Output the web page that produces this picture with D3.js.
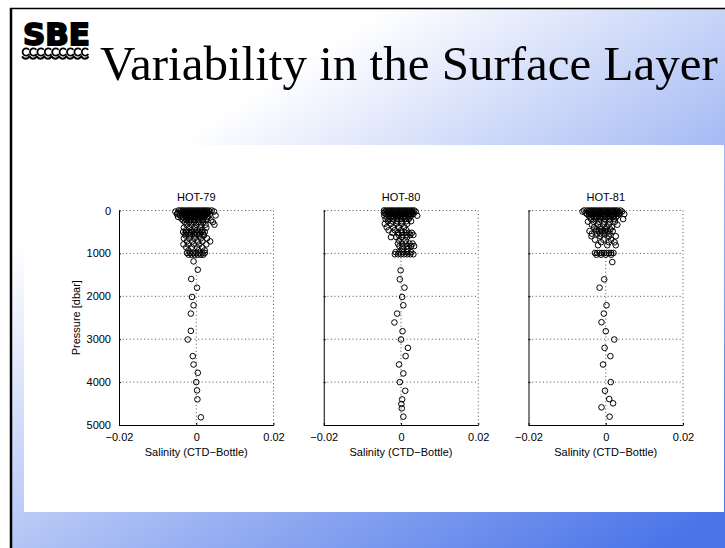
<!DOCTYPE html>
<html lang="en">
<head>
<meta charset="utf-8">
<title>Variability in the Surface Layer</title>
<script src="https://cdn.jsdelivr.net/npm/d3@7"></script>
<style>
  * { margin: 0; padding: 0; }
  body { background: #fff; }
  svg { display: block; }
  .tick text, .lbl { font-family: "Liberation Sans", Arial, Helvetica, sans-serif; font-size: 11px; fill: #000; }
  .grid { stroke: #222; stroke-width: 0.8; stroke-dasharray: 1 2.6; fill: none; }
  .pt { fill: none; stroke: #000; stroke-width: 1; }
</style>
</head>
<body>
<script>
// panels
var casts = ["HOT-79", "HOT-80", "HOT-81"];
var xTicks = [-0.02, 0, 0.02];
var xTickLabels = ["\u22120.02", "0", "0.02"];
var yTicks = [0, 1000, 2000, 3000, 4000, 5000];

// upper ~1000 dbar: [pressure, [salinity diffs]]
var hot79Upper = [
  [0, [-0.0046, -0.004, -0.0034, -0.0028, -0.0022, -0.0016, -0.001, -0.0004, 0.0002, 0.0008, 0.0014, 0.002, 0.0026, 0.0032, 0.004]],
  [25, [-0.0054, -0.0037, -0.0031, -0.0025, -0.0019, -0.0013, -0.0007, -0.0001, 0.0005, 0.0011, 0.0017, 0.0023, 0.0029, 0.0035, 0.0046]],
  [55, [-0.0048, -0.0036, -0.003, -0.0024, -0.0018, -0.0012, -0.0006, 0, 0.0006, 0.0012, 0.0018, 0.0024, 0.003]],
  [85, [-0.005, -0.0033, -0.0027, -0.0021, -0.0015, -0.0009, -0.0003, 0.0003, 0.0009, 0.0015, 0.0021, 0.0027, 0.0035]],
  [115, [-0.0042, -0.003, -0.0024, -0.0018, -0.0012, -0.0006, 0, 0.0006, 0.0012, 0.0018, 0.0024, 0.005]],
  [150, [-0.0047, -0.0035, -0.0027, -0.0019, -0.0011, -0.0003, 0.0005, 0.0013, 0.0021, 0.003]],
  [190, [-0.0038, -0.003, -0.0022, -0.0014, -0.0006, 0.0002, 0.001, 0.0018, 0.0028]],
  [230, [-0.0034, -0.0024, -0.0014, -0.0004, 0.0006, 0.0016, 0.0026, 0.0038]],
  [270, [-0.003, -0.0018, -0.0006, 0.0006, 0.0018, 0.0043]],
  [330, [-0.0025, -0.0012, 0, 0.0012, 0.0024, 0.0047]],
  [400, [-0.0032, -0.0018, -0.0004, 0.001, 0.0026]],
  [460, [-0.0026, -0.0012, 0.0002, 0.0016]],
  [500, [-0.0034, -0.0026, -0.0018, -0.001, -0.0002, 0.0006, 0.0014, 0.0022]],
  [540, [-0.003, -0.0022, -0.0014, -0.0006, 0.0002, 0.001, 0.0018]],
  [580, [-0.0028, -0.0016, -0.0004, 0.0008, 0.002]],
  [650, [-0.0032, -0.0018, -0.0004, 0.0012, 0.0028]],
  [720, [-0.0024, -0.001, 0.0004, 0.0016, 0.0036]],
  [790, [-0.0033, -0.002, -0.0006, 0.0008, 0.0026]],
  [860, [-0.0026, -0.0012, 0.0002, 0.0016]],
  [930, [-0.002, 0.0006, 0.0022]],
  [990, [-0.0024, -0.0016, -0.0008, 0, 0.0008, 0.0016, 0.0022]],
  [1030, [-0.002, -0.0012, -0.0004, 0.0004, 0.0012, 0.0018]]
];
var hot80Upper = [
  [0, [-0.0044, -0.0038, -0.0032, -0.0026, -0.002, -0.0014, -0.0008, -0.0002, 0.0004, 0.001, 0.0016, 0.0022, 0.0028, 0.0034]],
  [25, [-0.0041, -0.0035, -0.0029, -0.0023, -0.0017, -0.0011, -0.0005, 0.0001, 0.0007, 0.0013, 0.0019, 0.0025, 0.0031, 0.0038]],
  [55, [-0.0044, -0.0032, -0.0026, -0.002, -0.0014, -0.0008, -0.0002, 0.0004, 0.001, 0.0016, 0.0022, 0.0028]],
  [85, [-0.0038, -0.0029, -0.0023, -0.0017, -0.0011, -0.0005, 0.0001, 0.0007, 0.0013, 0.0019, 0.0025, 0.0032]],
  [120, [-0.0043, -0.003, -0.0022, -0.0014, -0.0006, 0.0002, 0.001, 0.0018, 0.0026, 0.0042]],
  [160, [-0.0036, -0.0026, -0.0018, -0.001, -0.0002, 0.0006, 0.0014, 0.0022]],
  [200, [-0.004, -0.003, -0.002, -0.001, 0, 0.001, 0.002]],
  [250, [-0.0034, -0.0022, -0.001, 0.0002, 0.0014, 0.0026]],
  [310, [-0.0042, -0.0026, -0.0012, 0.0002, 0.0016]],
  [390, [-0.0037, -0.002, -0.0006, 0.0008]],
  [460, [-0.0032, -0.0016, 0, 0.0014]],
  [520, [-0.0022, -0.0008, 0.0002, 0.0012, 0.002, 0.0028]],
  [570, [-0.0006, 0.0004, 0.0014, 0.0024, 0.0032]],
  [620, [-0.0026, -0.0012, 0.0002, 0.0016]],
  [700, [-0.0005, 0.0012]],
  [770, [-0.0008, 0.0002, 0.0012, 0.0022, 0.003]],
  [830, [-0.0004, 0.0006, 0.0016, 0.0026, 0.0034]],
  [900, [0.0002, 0.0018]],
  [970, [-0.0014, -0.0004, 0.0006, 0.0016, 0.0026]],
  [1020, [-0.0016, -0.0008, 0, 0.0008, 0.0016, 0.0024, 0.0032]]
];
var hot81Upper = [
  [0, [-0.0056, -0.0048, -0.0042, -0.0036, -0.003, -0.0024, -0.0018, -0.0012, -0.0006, 0, 0.0006, 0.0012, 0.0018, 0.0024, 0.003, 0.0038]],
  [25, [-0.006, -0.0045, -0.0039, -0.0033, -0.0027, -0.0021, -0.0015, -0.0009, -0.0003, 0.0003, 0.0009, 0.0015, 0.0021, 0.0027, 0.0033, 0.0042]],
  [55, [-0.0052, -0.0042, -0.0036, -0.003, -0.0024, -0.0018, -0.0012, -0.0006, 0, 0.0006, 0.0012, 0.0018, 0.0024, 0.003, 0.0036]],
  [85, [-0.0048, -0.0039, -0.0033, -0.0027, -0.0021, -0.0015, -0.0009, -0.0003, 0.0003, 0.0009, 0.0015, 0.0021, 0.0027, 0.0035, 0.0048]],
  [120, [-0.0044, -0.0034, -0.0026, -0.0018, -0.001, -0.0002, 0.0006, 0.0014, 0.0022, 0.003]],
  [160, [-0.004, -0.003, -0.0022, -0.0014, -0.0006, 0.0002, 0.001, 0.0018, 0.0026]],
  [200, [-0.0038, -0.0026, -0.0014, -0.0002, 0.001, 0.0022, 0.0045]],
  [260, [-0.0046, -0.0032, -0.0018, -0.0004, 0.001, 0.0024]],
  [330, [-0.0036, -0.002, -0.0006, 0.0008, 0.003]],
  [390, [-0.003, -0.0014, 0.0002, 0.0016]],
  [440, [-0.0024, -0.0012, 0, 0.0012]],
  [480, [-0.0042, -0.0026, -0.0018, -0.001, -0.0002, 0.0006, 0.0018]],
  [540, [-0.0036, -0.0022, -0.0014, -0.0006, 0.0002, 0.001]],
  [600, [-0.0037, -0.0014, 0.0008, 0.0026]],
  [680, [-0.0028, -0.0006, 0.0014]],
  [740, [-0.0012, 0.0008, 0.0023]],
  [810, [-0.002, 0.0004, 0.0026]],
  [990, [-0.0028, -0.0022, -0.0016, -0.001, -0.0004, 0.0002, 0.0008, 0.0014, 0.002]],
  [1030, [-0.0024, -0.0012, 0, 0.0014]]
];

// deep bottles: [salinity diff, pressure]
var hot79Deep = [
  [-0.0007, 1186], [0.0004, 1380], [-0.0013, 1597], [0.0002, 1800], [-0.0011, 2016],
  [-0.0007, 2209], [-0.0014, 2403], [-0.0014, 2806], [-0.0022, 3007], [-0.0009, 3395],
  [-0.0007, 3590], [0.0004, 3783], [0, 4000], [0.0002, 4193], [0.0003, 4402], [0.0012, 4821]
];
var hot80Deep = [
  [-0.0001, 1395], [-0.0003, 1605], [0.0009, 1798], [0.0003, 2016], [0.0006, 2209],
  [-0.001, 2403], [-0.0017, 2610], [0.0004, 2814], [0, 3007], [0.0018, 3202],
  [0.0012, 3395], [-0.0005, 3590], [0.0006, 3798], [-0.0003, 4000], [0.0011, 4202],
  [0.0003, 4402], [0.0001, 4512], [0.0002, 4612], [0.0006, 4806]
];
var hot81Deep = [
  [0.0017, 1202], [-0.0004, 1605], [-0.0016, 1798], [0.0002, 2209], [-0.0005, 2403],
  [-0.0011, 2605], [0, 2814], [0.0022, 3007], [-0.0003, 3202], [0.0012, 3395],
  [-0.0007, 3590], [0.0013, 4000], [-0.0002, 4202], [0.0009, 4395], [0.0019, 4495],
  [-0.0011, 4588], [0.001, 4806]
];

var castData = [
  { upper: hot79Upper, deep: hot79Deep },
  { upper: hot80Upper, deep: hot80Deep },
  { upper: hot81Upper, deep: hot81Deep }
];

var W = 725, H = 548;
var svg = d3.select("body").append("svg").attr("width", W).attr("height", H);

// slide background
var grad = svg.append("defs").append("linearGradient")
    .attr("id", "bg").attr("gradientUnits", "userSpaceOnUse")
    .attr("x1", 116).attr("y1", 181).attr("x2", 444).attr("y2", 690);
grad.append("stop").attr("offset", 0).attr("stop-color", "#ffffff");
grad.append("stop").attr("offset", 1).attr("stop-color", "#4a74e8");

svg.append("rect").attr("width", W).attr("height", H).attr("fill", "#fff");
svg.append("rect").attr("x", 10).attr("y", 8).attr("width", W - 10).attr("height", H - 8).attr("fill", "url(#bg)");
svg.append("line").attr("x1", 11).attr("x2", 11).attr("y1", 8).attr("y2", H).attr("stroke", "#000").attr("stroke-width", 2.5);
svg.append("line").attr("x1", 10).attr("x2", W).attr("y1", 8.5).attr("y2", 8.5).attr("stroke", "#000").attr("stroke-width", 1.5);
svg.append("rect").attr("x", 24).attr("y", 145).attr("width", 700).attr("height", 367).attr("fill", "#fff");

// logo
svg.append("text").attr("x", 23).attr("y", 45)
    .attr("textLength", 67).attr("lengthAdjust", "spacingAndGlyphs")
    .style("font-family", "'DejaVu Sans', sans-serif").style("font-weight", "bold")
    .style("font-size", "30px").attr("stroke", "#000").attr("stroke-width", 1.8)
    .text("SBE");
var curls = d3.range(9);
svg.append("g").selectAll("path").data(curls).enter().append("path")
    .attr("d", function(i) {
      var cx = 26.2 + i * 7.4, cy = 52;
      return "M" + (cx + 2.8) + "," + (cy - 2.2) + " A3.6,3.6 0 1,0 " + (cx + 3) + "," + (cy + 2);
    })
    .attr("fill", "none").attr("stroke", "#000").attr("stroke-width", 1.8);
var wave = d3.path();
wave.moveTo(22, 56.5);
curls.forEach(function(i) { wave.quadraticCurveTo(22 + i * 7.4 + 3.7, 61, 22 + (i + 1) * 7.4, 56.5); });
svg.append("path").attr("d", wave.toString()).attr("fill", "none").attr("stroke", "#000").attr("stroke-width", 2);

// slide title
var title = svg.append("text").attr("x", 100).attr("y", 80)
    .style("font-family", "'Liberation Serif', 'Times New Roman', serif")
    .style("font-size", "48px").attr("fill", "#000")
    .text("Variability in the Surface Layer");
var tl = title.node().getComputedTextLength();
title.style("font-size", (48 * 618 / tl) + "px");

// panels
var plotTop = 210.5, plotH = 214.5, plotW = 154.5;
var panelX = d3.scaleLinear().domain([0, 1]).range([119, 323.75]);

casts.forEach(function(name, i) {
  var x = d3.scaleLinear().domain([-0.02, 0.02]).range([0, plotW]);
  var y = d3.scaleLinear().domain([0, 5000]).range([0, plotH]);
  var g = svg.append("g").attr("transform", "translate(" + panelX(i) + "," + plotTop + ")");

  // dotted grid
  g.selectAll(".hgrid").data(yTicks.slice(0, -1)).enter().append("line")
      .attr("class", "grid")
      .attr("x1", 0).attr("x2", plotW)
      .attr("y1", function(d) { return y(d); }).attr("y2", function(d) { return y(d); });
  g.selectAll(".vgrid").data(xTicks.slice(1)).enter().append("line")
      .attr("class", "grid")
      .attr("y1", 0).attr("y2", plotH)
      .attr("x1", function(d) { return x(d); }).attr("x2", function(d) { return x(d); });

  // bottles
  var pts = castData[i].upper.flatMap(function(r) {
    return r[1].map(function(s) { return [s, r[0]]; });
  }).concat(castData[i].deep);
  g.selectAll("circle").data(pts).enter().append("circle")
      .attr("class", "pt").attr("r", 2.8)
      .attr("cx", function(d) { return x(d[0]); })
      .attr("cy", function(d) { return y(d[1]); });

  // axes
  var yAxis = d3.axisLeft(y).tickValues(yTicks).tickSizeInner(-2).tickSizeOuter(0).tickPadding(8)
      .tickFormat(i > 0 ? "" : d3.format("d"));
  var ya = g.append("g").call(yAxis);
  var xa = g.append("g").attr("transform", "translate(0," + plotH + ")")
      .call(d3.axisBottom(x).tickValues(xTicks).tickSizeInner(-2).tickSizeOuter(0).tickPadding(6)
        .tickFormat(function(d, k) { return xTickLabels[k]; }));
  [ya, xa].forEach(function(a) {
    a.attr("font-family", null).attr("font-size", null);
    a.select(".domain").attr("stroke", "#000").attr("stroke-width", 1);
    a.selectAll(".tick line").attr("stroke", "#000");
  });
  xa.selectAll(".tick text").attr("dy", "0.95em");

  g.append("text").attr("class", "lbl").attr("text-anchor", "middle")
      .attr("x", plotW / 2).attr("y", -9.5).text(name);
  g.append("text").attr("class", "lbl").attr("text-anchor", "middle")
      .attr("x", plotW / 2).attr("y", plotH + 31).text("Salinity (CTD\u2212Bottle)");
  if (i === 0) {
    g.append("text").attr("class", "lbl").attr("text-anchor", "middle")
        .attr("transform", "translate(-39," + (plotH / 2) + ") rotate(-90)")
        .text("Pressure [dbar]");
  }
});
</script>
</body>
</html>
